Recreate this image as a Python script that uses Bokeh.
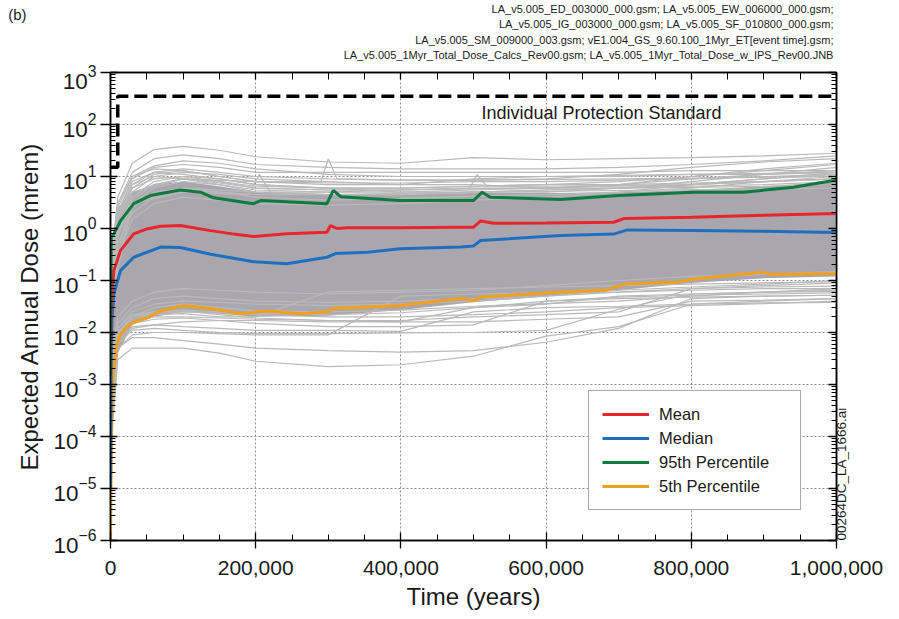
import math
from bokeh.plotting import figure
from bokeh.layouts import column
from bokeh.models import (FixedTicker, LinearAxis, LogAxis, Label, Legend, LegendItem,
                          NumeralTickFormatter, LogTickFormatter, Range1d, CustomJSTickFormatter)
from bokeh.core.properties import value
from bokeh.embed import file_html
from bokeh.resources import INLINE

FONT = "Liberation Sans"
TXT = "#1a1a1a"

# ---------------- data ----------------
time_grid = [0, 2000, 10000, 30000, 60000, 100000, 150000, 200000, 300000, 400000,
             500000, 600000, 700000, 800000, 900000, 1000000]

# envelope of the dense core of realizations (mrem)
band_low = [1e-6, 1e-4, 4e-3, 0.014, 0.02, 0.025, 0.023, 0.02, 0.021, 0.027,
            0.038, 0.05, 0.065, 0.09, 0.11, 0.12]
band_high = [1e-3, 0.6, 2.5, 5, 7, 8, 6.5, 5, 4.5, 4.5, 4.8, 4.8, 5, 5.5, 6.5, 8]

# individual realizations visible outside the dense core (mrem)
real_01 = [1e-6, 0.3, 4, 18, 33, 38, 32, 24, 19, 18, 23, 21, 22, 23, 25, 28]
real_02 = [1e-6, 0.2, 3, 12, 22, 26, 22, 17, 15, 14, 14, 14, 15, 17, 20, 25]
real_03 = [1e-6, 0.1, 2, 9, 15, 17, 15, 12, 12, 12, 12, 12, 12, 13, 13, 13]
real_04 = [1e-6, 0.1, 1.5, 7, 12, 14, 12, 10, 9, 8.5, 8.5, 9, 11, 15, 19, 22]
real_05 = [1e-6, 0.05, 1, 5, 10, 12, 11, 9, 8, 7, 7, 6, 7, 10, 14, 18]
real_06 = [1e-6, 0.05, 0.8, 4, 8, 10, 9, 7, 6, 5, 5, 5, 6, 8, 11, 15]
real_07 = [1e-6, 0.08, 1.2, 6, 11, 13, 10, 8, 7, 7, 9, 10, 10.5, 11, 11.5, 12]
real_08 = [1e-6, 0.05, 0.8, 3, 6, 8, 7, 5, 4.5, 4.5, 5, 5.5, 6, 6.5, 7, 8]
real_09 = [1e-6, 0.03, 0.5, 2.5, 5, 6, 5, 4, 3.5, 3.8, 4.2, 4.5, 5, 6, 8, 10]
real_10 = [1e-6, 0.06, 1, 4, 7, 9, 7, 5.5, 5, 5, 5.5, 6, 7, 9, 11, 13]
real_11 = [1e-6, 0.15, 2.5, 10, 16, 20, 18, 14, 11, 10, 10, 10, 10, 11, 11, 12]
real_12 = [1e-6, 0.02, 0.3, 1.5, 3, 4, 3.5, 3, 2.8, 3, 3.5, 4, 5, 7, 9, 11]
real_13 = [1e-6, 1e-4, 3e-3, 5e-3, 5e-3, 5e-3, 4e-3, 2.8e-3, 2.2e-3, 2.4e-3, 3.5e-3, 8.5e-3, 0.013, 0.035, 0.037, 0.038]
real_14 = [1e-6, 2e-4, 5e-3, 8e-3, 8e-3, 7e-3, 6e-3, 5e-3, 4.5e-3, 4.2e-3, 4.5e-3, 6.5e-3, 0.012, 0.045, 0.05, 0.052]
real_15 = [1e-6, 3e-4, 6e-3, 0.011, 0.012, 0.011, 0.01, 0.0095, 0.0095, 0.0098, 0.01, 0.011, 0.028, 0.055, 0.06, 0.062]
real_16 = [1e-6, 5e-4, 8e-3, 0.015, 0.018, 0.019, 0.017, 0.015, 0.013, 0.013, 0.014, 0.04, 0.048, 0.052, 0.055, 0.058]
real_17 = [1e-6, 4e-4, 7e-3, 0.013, 0.014, 0.013, 0.012, 0.011, 0.011, 0.0105, 0.025, 0.03, 0.032, 0.035, 0.04, 0.045]
real_18 = [1e-6, 6e-4, 9e-3, 0.02, 0.025, 0.026, 0.022, 0.019, 0.017, 0.017, 0.02, 0.022, 0.025, 0.07, 0.075, 0.078]
real_19 = [1e-6, 8e-4, 0.01, 0.018, 0.022, 0.023, 0.02, 0.02, 0.06, 0.065, 0.07, 0.075, 0.08, 0.085, 0.09, 0.095]
real_20 = [1e-6, 5e-4, 8e-3, 0.016, 0.02, 0.02, 0.019, 0.018, 0.017, 0.016, 0.016, 0.018, 0.02, 0.04, 0.042, 0.045]
real_21 = [1e-6, 1e-3, 0.012, 0.022, 0.025, 0.027, 0.025, 0.023, 0.022, 0.024, 0.03, 0.035, 0.05, 0.055, 0.06, 0.065]
real_22 = [1e-6, 3e-4, 6e-3, 0.012, 0.014, 0.016, 0.017, 0.017, 0.016, 0.016, 0.03, 0.04, 0.045, 0.048, 0.05, 0.052]
real_23 = [1e-6, 2e-4, 5e-3, 0.009, 0.01, 0.01, 0.0095, 0.009, 0.009, 0.05, 0.055, 0.058, 0.06, 0.065, 0.07, 0.07]
real_24 = [1e-6, 6e-4, 0.01, 0.02, 0.023, 0.025, 0.024, 0.022, 0.02, 0.02, 0.022, 0.025, 0.03, 0.033, 0.036, 0.04]
real_25 = [1e-6, 2e-3, 0.015, 0.03, 0.045, 0.05, 0.045, 0.04, 0.038, 0.04, 0.045, 0.05, 0.06, 0.07, 0.08, 0.09]
real_26 = [1e-6, 1.5e-3, 0.012, 0.025, 0.035, 0.04, 0.038, 0.035, 0.033, 0.035, 0.04, 0.05, 0.065, 0.075, 0.085, 0.1]
real_27 = [1e-6, 3e-3, 0.02, 0.04, 0.06, 0.07, 0.065, 0.06, 0.055, 0.06, 0.065, 0.08, 0.1, 0.12, 0.13, 0.15]
real_28 = [1e-6, 1e-3, 0.01, 0.02, 0.03, 0.035, 0.03, 0.026, 0.025, 0.027, 0.032, 0.036, 0.04, 0.05, 0.06, 0.07]
real_29 = [1e-6, 0.1, 2, 8, 12, 11, 9, 7, 6, 6, 6.5, 7, 7, 7.5, 8, 9]
real_30 = [1e-6, 0.05, 1.5, 6, 9, 10, 8, 6, 5.5, 5.5, 6, 6, 6.5, 7, 9, 12]
real_31 = [1e-6, 0.2, 3, 10, 14, 13, 10, 8, 7.5, 7.5, 8, 8, 8.5, 9, 10, 11]
real_32 = [1e-6, 0.04, 0.7, 3.5, 7, 9, 8, 6.5, 6, 6, 6.5, 7, 8, 10, 13, 17]
real_33 = [1e-6, 0.1, 1.8, 7, 10, 9, 7.5, 6, 5.5, 5.5, 5.8, 6, 6, 6.2, 6.5, 7]
real_34 = [1e-6, 0.03, 0.5, 2, 4, 5.5, 5, 4.5, 4.5, 4.5, 5, 5.5, 6, 7, 8, 9]

realizations = [real_01, real_02, real_03, real_04, real_05, real_06, real_07, real_08,
                real_09, real_10, real_11, real_12, real_13, real_14, real_15, real_16,
                real_17, real_18, real_19, real_20, real_21, real_22, real_23, real_24,
                real_25, real_26, real_27, real_28, real_29, real_30, real_31, real_32,
                real_33, real_34]

# realizations with event spikes (own time samples)
spike_a_time = [0, 2000, 30000, 100000, 200000, 290000, 300000, 312000, 400000, 500000, 700000, 1000000]
spike_a_dose = [1e-6, 0.1, 5, 9, 8, 8, 22, 9, 8.5, 8.5, 9, 10]
spike_b_time = [0, 2000, 30000, 100000, 200000, 300000, 400000, 495000, 505000, 518000, 600000, 800000, 1000000]
spike_b_dose = [1e-6, 0.08, 3, 6, 5, 5, 5.5, 6, 11, 6.5, 6.5, 7, 9]
spike_c_time = [0, 2000, 30000, 100000, 190000, 205000, 220000, 300000, 500000, 1000000]
spike_c_dose = [1e-6, 0.05, 3, 5, 4.5, 11, 5, 4.5, 5, 6]

# statistics
mean_time = [0, 1000, 4600, 13800, 32000, 50000, 69000, 96000, 138000, 170000, 197000, 243000,
             298000, 303000, 312000, 326000, 399000, 482000, 500000, 510000, 528000, 600000,
             693000, 707000, 800000, 900000, 1000000]
mean_dose = [2e-3, 0.03, 0.155, 0.38, 0.79, 0.98, 1.1, 1.14, 0.91, 0.78, 0.70, 0.79,
             0.85, 1.14, 1.0, 1.03, 1.03, 1.06, 1.06, 1.4, 1.26, 1.28,
             1.32, 1.55, 1.65, 1.8, 1.95]

median_time = [0, 1000, 2000, 4600, 13800, 32000, 69000, 96000, 138000, 197000, 243000, 298000,
               310000, 354000, 399000, 482000, 500000, 510000, 620000, 693000, 712000, 803000,
               895000, 1000000]
median_dose = [1e-5, 5e-3, 0.017, 0.055, 0.155, 0.28, 0.44, 0.43, 0.32, 0.23, 0.21, 0.28,
               0.33, 0.35, 0.41, 0.44, 0.46, 0.59, 0.73, 0.78, 0.94, 0.92,
               0.89, 0.84]

p95_time = [0, 1000, 4600, 13800, 32000, 55000, 96000, 124000, 142000, 197000, 207000, 298000,
            307000, 317000, 399000, 500000, 512000, 523000, 620000, 700000, 803000, 872000,
            941000, 1000000]
p95_dose = [1.5e-3, 0.68, 0.79, 1.4, 3.0, 4.3, 5.5, 5.0, 3.9, 3.0, 3.45, 3.0,
            5.4, 4.1, 3.45, 3.45, 5.0, 4.0, 3.6, 4.3, 5.0, 5.0,
            6.2, 8.6]

p5_time = [0, 1500, 3000, 4600, 9000, 14000, 23000, 32000, 50000, 69000, 101000, 138000,
           179000, 216000, 262000, 298000, 307000, 399000, 482000, 500000, 510000, 620000,
           680000, 712000, 780000, 803000, 877000, 895000, 913000, 1000000]
p5_dose = [1e-6, 2e-4, 1.2e-3, 2.1e-3, 6e-3, 9.5e-3, 0.013, 0.016, 0.019, 0.026, 0.033, 0.029,
           0.023, 0.026, 0.023, 0.025, 0.029, 0.033, 0.045, 0.041, 0.048, 0.06,
           0.065, 0.087, 0.093, 0.107, 0.135, 0.144, 0.13, 0.138]

# Individual Protection Standard (15 mrem to 10,000 yr, 350 mrem after)
ips_time = [0, 10000, 10000, 1000000]
ips_limit = [15, 15, 350, 350]

# ticks
x_major_ticks = [0, 200000, 400000, 600000, 800000, 1000000]
x_minor_ticks = [t for t in range(50000, 1000000, 50000) if t % 200000 != 0]
y_major_ticks = [10.0 ** e for e in range(-6, 4)]
y_minor_ticks = [k * 10.0 ** e for e in range(-6, 3) for k in range(2, 10)]

legend_labels = ["Mean", "Median", "95th Percentile", "5th Percentile"]
panel_tag = "(b)"
file_lines = [
    "LA_v5.005_ED_003000_000.gsm;  LA_v5.005_EW_006000_000.gsm;",
    "LA_v5.005_IG_003000_000.gsm;  LA_v5.005_SF_010800_000.gsm;",
    "LA_v5.005_SM_009000_003.gsm;  vE1.004_GS_9.60.100_1Myr_ET[event time].gsm;",
    "LA_v5.005_1Myr_Total_Dose_Calcs_Rev00.gsm;  LA_v5.005_1Myr_Total_Dose_w_IPS_Rev00.JNB",
]
side_tag = "00264DC_LA_1666.ai"

W = 897
HEAD_H = 64
FRAME_L, FRAME_R = 110, 836

# ---------------- header strip (texts above the plot) ----------------
# its frame is aligned with the main frame by the column layout, so page x == data x
head = figure(width=W, height=HEAD_H, x_range=Range1d(FRAME_L, FRAME_R),
              y_range=Range1d(HEAD_H, 0),
              output_backend="svg", toolbar_location=None,
              x_axis_location=None, y_axis_location="left",
              min_border=0, min_border_left=FRAME_L, min_border_right=W - FRAME_R,
              min_border_top=0, min_border_bottom=0)
head.outline_line_color = None
head.xgrid.visible = False
head.ygrid.visible = False
hy = head.yaxis[0]
hy.ticker = FixedTicker(ticks=[14], minor_ticks=[])
hy.major_label_overrides = {14: panel_tag}
hy.axis_line_color = None
hy.major_tick_line_color = None
hy.minor_tick_line_color = None
hy.major_tick_in = 0
hy.major_tick_out = 0
hy.major_label_standoff = FRAME_L - 26
hy.major_label_text_font = FONT
hy.major_label_text_font_size = "15px"
hy.major_label_text_color = TXT
head.text(x=[FRAME_R] * 4, y=[8, 23.5, 39, 54], text=file_lines,
          text_font=value(FONT), text_font_size="11px", text_color=TXT,
          text_align="right", text_baseline="middle")

# ---------------- main plot ----------------
p = figure(frame_width=FRAME_R - FRAME_L, frame_height=468,
           x_range=Range1d(0, 1000000), y_range=Range1d(1e-6, 1e3),
           y_axis_type="log", output_backend="svg", toolbar_location=None,
           min_border_left=FRAME_L, min_border_right=W - FRAME_R,
           min_border_top=72 - HEAD_H, min_border_bottom=77,
           background_fill_color="white", border_fill_color="white")
p.outline_line_color = "black"
p.outline_line_width = 1.5

xt = FixedTicker(ticks=x_major_ticks, minor_ticks=x_minor_ticks)
yt = FixedTicker(ticks=y_major_ticks, minor_ticks=y_minor_ticks)

xa = p.xaxis[0]
xa.ticker = xt
xa.formatter = NumeralTickFormatter(format="0,0")
ya = p.yaxis[0]
ya.ticker = yt
ya.formatter = LogTickFormatter()

for ax in (xa, ya):
    ax.axis_line_color = "black"
    ax.axis_line_width = 1.5
    ax.major_tick_line_color = "black"
    ax.major_tick_line_width = 1.3
    ax.minor_tick_line_color = "black"
    ax.minor_tick_line_width = 1
    ax.major_label_text_font = FONT
    ax.major_label_text_color = TXT
    ax.axis_label_text_font = FONT
    ax.axis_label_text_font_size = "24px"
    ax.axis_label_text_font_style = "normal"
    ax.axis_label_text_color = TXT

xa.major_label_text_font_size = "21px"
ya.major_label_text_font_size = "22.5px"

xa.axis_label = "Time (years)"
xa.major_tick_in = 8
xa.major_tick_out = 8
xa.minor_tick_in = 6
xa.minor_tick_out = 0
xa.major_label_standoff = 12
xa.axis_label_standoff = 5

ya.axis_label = "Expected Annual Dose (mrem)"
ya.major_tick_in = 7
ya.major_tick_out = 10
ya.minor_tick_in = 5
ya.minor_tick_out = 0
ya.major_label_standoff = 4
ya.axis_label_standoff = 8

blank = CustomJSTickFormatter(code="return ''")
top = LinearAxis(ticker=xt, formatter=blank, major_tick_in=7, major_tick_out=0,
                 minor_tick_in=7, minor_tick_out=0, axis_line_width=1.5,
                 major_label_standoff=0, major_tick_line_width=1.3,
                 major_label_text_font_size="1px")
right = LogAxis(ticker=yt, formatter=blank, major_tick_in=8, major_tick_out=0,
                minor_tick_in=5, minor_tick_out=0, axis_line_width=1.5,
                major_label_standoff=0, major_tick_line_width=1.3,
                major_label_text_font_size="1px")
right.axis_label = side_tag
right.axis_label_text_font = FONT
right.axis_label_text_font_size = "13.5px"
right.axis_label_text_font_style = "normal"
right.axis_label_text_color = TXT
right.axis_label_standoff = 5
_props = LogAxis.properties()
if "axis_label_orientation" in _props:
    right.axis_label_orientation = math.pi / 2
if "axis_label_align" in _props:
    right.axis_label_align = "start"
p.add_layout(top, "above")
p.add_layout(right, "right")

for g in (p.xgrid[0], p.ygrid[0]):
    g.grid_line_color = "#8c8c8c"
    g.grid_line_dash = "2 2"
    g.grid_line_width = 1
p.xgrid[0].ticker = FixedTicker(ticks=x_major_ticks)
p.ygrid[0].ticker = FixedTicker(ticks=y_major_ticks)

# dense core of realizations
p.varea(x=time_grid, y1=band_low, y2=band_high, fill_color="#a9a7ad", fill_alpha=1.0)

# individual realizations
for r in realizations:
    p.line(time_grid, r, line_color="#b9b9b9", line_width=1.2)
for tt, dd in ((spike_a_time, spike_a_dose), (spike_b_time, spike_b_dose), (spike_c_time, spike_c_dose)):
    p.line(tt, dd, line_color="#b9b9b9", line_width=1.2)

# standard
p.line(ips_time, ips_limit, line_color="black", line_width=3.5, line_dash="13 6")

# statistics
r_p5 = p.line(p5_time, p5_dose, line_color="#f0a01e", line_width=3)
r_med = p.line(median_time, median_dose, line_color="#1f6fc0", line_width=3)
r_mean = p.line(mean_time, mean_dose, line_color="#e8242c", line_width=3)
r_p95 = p.line(p95_time, p95_dose, line_color="#0d7a40", line_width=3)

legend = Legend(items=[LegendItem(label=legend_labels[0], renderers=[r_mean]),
                       LegendItem(label=legend_labels[1], renderers=[r_med]),
                       LegendItem(label=legend_labels[2], renderers=[r_p95]),
                       LegendItem(label=legend_labels[3], renderers=[r_p5])],
                location=(478, 30), margin=0, padding=13, spacing=4,
                glyph_width=47, glyph_height=20, label_height=20, label_width=128,
                label_standoff=10, label_text_font=FONT, label_text_font_size="16.5px",
                label_text_color=TXT, border_line_color="#555555", border_line_width=1.5,
                background_fill_color="white", background_fill_alpha=1.0)
p.add_layout(legend)

p.add_layout(Label(x=491, y=428, x_units="screen", y_units="screen",
                   text="Individual Protection Standard", text_font=FONT,
                   text_font_size="18px", text_color=TXT,
                   text_align="center", text_baseline="middle"))

layout = column(head, p, spacing=0)
open("out.html", "w").write(file_html(layout, INLINE))
